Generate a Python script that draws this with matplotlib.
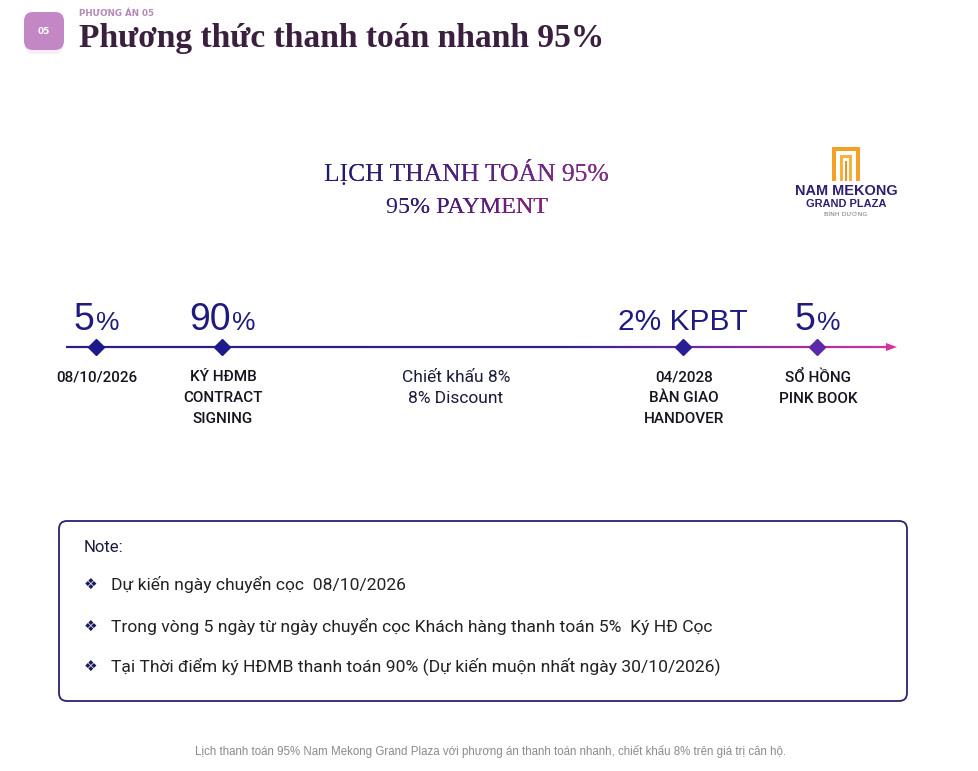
import numpy as np
import matplotlib
matplotlib.use("Agg")
import matplotlib.pyplot as plt
from matplotlib.patches import FancyBboxPatch, Rectangle, Polygon
from matplotlib.collections import LineCollection
from matplotlib.colors import to_rgb

W, H = 979, 771

# ---- content ----
section_tag = "PHƯƠNG ÁN 05"
badge_label = "05"
page_title = "Phương thức thanh toán nhanh 95%"
schedule_title = ["LỊCH THANH TOÁN 95%", "95% PAYMENT"]

stage_amounts = ["5", "90", "2% KPBT", "5"]
stage_suffix = ["%", "%", "", "%"]
stage_labels = ["08/10/2026", "KÝ HĐMB\nCONTRACT\nSIGNING",
                "04/2028\nBÀN GIAO\nHANDOVER", "SỔ HỒNG\nPINK BOOK"]
discount_label = "Chiết khấu 8%\n8% Discount"

note_title = "Note:"
note_items = [
    "Dự kiến ngày chuyển cọc  08/10/2026",
    "Trong vòng 5 ngày từ ngày chuyển cọc Khách hàng thanh toán 5%  Ký HĐ Cọc",
    "Tại Thời điểm ký HĐMB thanh toán 90% (Dự kiến muộn nhất ngày 30/10/2026)",
]
caption = ("Lịch thanh toán 95% Nam Mekong Grand Plaza với phương án thanh toán "
           "nhanh, chiết khấu 8% trên giá trị căn hộ.")
logo_lines = ["NAM MEKONG", "GRAND PLAZA", "BÌNH DƯƠNG"]

# ---- layout (pixels) ----
stage_x = [96, 222, 683, 817]
line_y = 347
navy = "#1f1a80"

fig = plt.figure(figsize=(W / 100, H / 100), dpi=100)
ax = fig.add_axes([0, 0, 1, 1])
ax.set_xlim(0, W)
ax.set_ylim(H, 0)
ax.axis("off")
renderer = fig.canvas.get_renderer()


def width(t):
    return t.get_window_extent(renderer).width


def fit(t, target):
    t.set_fontsize(t.get_fontsize() * target / width(t))
    return t


def mix(c1, c2, f):
    a, b = np.array(to_rgb(c1)), np.array(to_rgb(c2))
    return tuple(a + (b - a) * f)


def gradient_text(x, y, s, c1, c2, target_w, bands=10, **kw):
    # one full copy in the left colour, then copies clipped to vertical bands
    base = ax.text(x, y, s, ha="center", va="baseline", color=c1, **kw)
    fit(base, target_w)
    bb = base.get_window_extent(renderer)
    edges = np.linspace(bb.x0, bb.x1, bands + 1)
    for i in range(1, bands):
        t = ax.text(x, y, s, ha="center", va="baseline",
                    color=mix(c1, c2, i / (bands - 1)), **kw)
        t.set_fontsize(base.get_fontsize())
        t.set_clip_on(True)
        t.set_clip_path(Rectangle((edges[i], 0), edges[i + 1] - edges[i] + 0.5, H,
                                  transform=ax.transData))


# header badge + title
ax.add_patch(FancyBboxPatch((25, 17), 38, 37, boxstyle="round,pad=0,rounding_size=9",
                            fc="#f9eef8", ec="none"))
ax.add_patch(FancyBboxPatch((24, 12), 40, 38, boxstyle="round,pad=0,rounding_size=9",
                            fc="#c287c4", ec="none"))
ax.text(44, 32, badge_label, ha="center", va="center", color="white",
        fontsize=6.5, fontweight="bold", family="DejaVu Sans")
ax.text(79, 13, section_tag, ha="left", va="center", color="#b48ab6",
        fontsize=6.3, fontweight="bold", family="DejaVu Sans")
fit(ax.text(79, 47, page_title, ha="left", va="baseline", color="#3a1f3e",
            fontsize=24, fontweight="bold", family="Liberation Serif"), 526)

# schedule heading
gradient_text(466, 181, schedule_title[0], "#1e1a6c", "#8e2a88", 285,
              fontsize=20, family="Liberation Serif")
gradient_text(467, 213, schedule_title[1], "#251d6e", "#8a1c7e", 162,
              fontsize=20, family="Liberation Serif")

# logo
orange = "#f4a125"
ax.add_patch(Rectangle((832, 147), 28, 4, fc=orange, ec="none"))
ax.add_patch(Rectangle((832, 147), 4, 34, fc=orange, ec="none"))
ax.add_patch(Rectangle((856, 147), 4, 34, fc=orange, ec="none"))
ax.add_patch(Rectangle((840, 155), 12, 3, fc="#f7b23a", ec="none"))
ax.add_patch(Rectangle((840, 155), 3, 26, fc="#f7b23a", ec="none"))
ax.add_patch(Rectangle((849, 155), 3, 26, fc="#f7b23a", ec="none"))
ax.add_patch(Rectangle((845, 161), 2.5, 20, fc="#f0922a", ec="none"))
fit(ax.text(846, 191, logo_lines[0], ha="center", va="center", color="#2e2070",
            fontsize=10, fontweight="bold", family="Liberation Sans"), 102)
fit(ax.text(846, 204, logo_lines[1], ha="center", va="center", color="#2e2070",
            fontsize=8, fontweight="bold", family="Liberation Sans"), 80)
ax.text(846, 215, logo_lines[2], ha="center", va="center", color="#777777",
        fontsize=4.5, family="DejaVu Sans")

# timeline line with colour gradient
xs = np.linspace(66, 888, 300)
stops_x = [66, 560, 690, 888]
stops_c = [to_rgb("#2a1f84"), to_rgb("#33208c"), to_rgb("#6a2a9e"), to_rgb("#d3339a")]
cols = [tuple(np.interp(x, stops_x, [c[k] for c in stops_c]) for k in range(3)) for x in xs[:-1]]
segs = [[(xs[i], line_y), (xs[i + 1], line_y)] for i in range(len(xs) - 1)]
ax.add_collection(LineCollection(segs, colors=cols, linewidths=1.6))
ax.add_patch(Polygon([(886, line_y - 4), (897, line_y), (886, line_y + 4)],
                     closed=True, fc="#d3339a", ec="none"))

marker_cols = ["#1d1a8c", "#1d1a8c", "#2a1e96", "#5a2aa8"]
for x, c in zip(stage_x, marker_cols):
    ax.plot(x, line_y, marker="D", ms=8.5, color=c, mec=c, zorder=3)

# amounts above
for x, amt, suf in zip(stage_x, stage_amounts, stage_suffix):
    big = 27 if suf else 21.5
    t1 = ax.text(0, 330, amt, ha="left", va="baseline", color=navy,
                 fontsize=big, family="Liberation Sans")
    w1 = width(t1)
    w2 = 0
    if suf:
        t2 = ax.text(0, 330, suf, ha="left", va="baseline", color=navy,
                     fontsize=19, family="Liberation Sans")
        w2 = width(t2)
    x0 = x - (w1 + w2) / 2
    t1.set_x(x0)
    if suf:
        t2.set_x(x0 + w1 + 1)

# labels below
for x, lab in zip(stage_x, stage_labels):
    ax.text(x + 1, 370, lab, ha="center", va="top", color="#15151f",
            fontsize=11, fontweight="medium", family="Roboto", linespacing=1.65)
ax.text(456, 370, discount_label, ha="center", va="top", color="#1a1a3a",
        fontsize=12.5, family="Roboto", linespacing=1.5)

# note box
ax.add_patch(FancyBboxPatch((59, 521), 848, 180, boxstyle="round,pad=0,rounding_size=8",
                            fc="white", ec="#2a2272", lw=1.3))
ax.text(84, 547, note_title, ha="left", va="center", color="#1a1a40",
        fontsize=12, family="Roboto")
note_y = [584, 626, 666]
t_long = ax.text(111, note_y[2], note_items[2], ha="left", va="center",
                 color="#222222", fontsize=12, family="Roboto")
fit(t_long, 607)
for y, item in zip(note_y[:2], note_items[:2]):
    ax.text(111, y, item, ha="left", va="center", color="#222222",
            fontsize=t_long.get_fontsize(), family="Roboto")
for y in note_y:
    ax.text(91, y, "❖", ha="center", va="center", color="#1a1a5a",
            fontsize=11, family="DejaVu Sans")

# caption
fit(ax.text(491, 751, caption, ha="center", va="center", color="#8a8a8a",
            fontsize=8, family="Liberation Sans"), 597)

fig.savefig("out.png", dpi=100, facecolor="white")
